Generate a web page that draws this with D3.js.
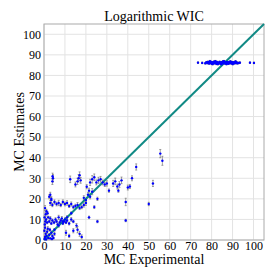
<!DOCTYPE html>
<html><head><meta charset="utf-8">
<script src="https://cdn.jsdelivr.net/npm/d3@7"></script>
<style>body{margin:0;background:#fff}svg{display:block}</style>
</head><body>
<svg id="c" width="277" height="277"></svg>
<script>
const title = "Logarithmic WIC";
const xLabel = "MC Experimental";
const yLabel = "MC Estimates";
const tickValues = [0,10,20,30,40,50,60,70,80,90,100];

// scattered low-range points: experimental, estimate, error
const lowX = [0.3,0.5,0.8,1,1.2,1.5,2,2.5,3,3.5,4,4.5,5,1.8,0.5,2.8,3.8,0.2,
  0.4,0.6,1,0.3,0.8,1.5,1.2,0.5,2,1.7,
  2.5,3,3.5,4,4.8,5.5,6,6.5,7,7.5,8,8.5,9,9.5,10,10.5,11,12,13,14,
  3,3.5,4,5,6,7,8,9,10,11,12,13,14,15,16,17,18,19,20,
  2.5,3,3.5,4,4.3,4.1,12.5,15,16,16.5,17,17.5,
  19,20,21,22,23,21.5,25.5,20.4,24,
  22,23,24,25,26,27,28,29,30,
  31,33,34,35,35.5,36,37,40,41,
  39,39,44,42,21.5,25.5,15.5,16,17,18,10.5,12,14,
  5,7,9,11,13,50,52,55.5,56.5];
const lowY = [0.5,1.5,3,0.3,2,4,1,2.5,0.8,3.5,2,1,3,5.5,6,5,0.5,4.5,
  7.5,9,10,11,12.5,8.5,14,15.5,11,13,
  9,10.5,8,9.5,8.5,10,9,7.5,11,8.5,9.5,10.5,8,9,10,8.5,9.5,8,10,9,
  18,19.5,17,18.5,17.5,18,17,18.5,17.5,18,16.5,17.5,16,16.5,17,15.5,16,17,18,
  21,22,20,28.5,30,31,29.5,27,28.5,30,31.5,29,
  20.5,19.5,22,21,23.5,24,20,25.9,16,
  28,29.5,30.5,28,29,29.5,28,27,27.5,
  24,27.5,28.5,26,24,27,29,25.5,26,
  18.5,9.5,35.5,30,11,9,7,5,3,1.5,3.5,2,4.5,
  5,7,9,11,13,17.5,27.5,42,38.5];
const lowErr = [0.4,0.6,0.8,0.3,0.5,1,0.4,0.7,0.3,0.9,0.5,0.4,0.8,1,0.6,0.7,0.3,0.5,
  0.6,0.8,0.5,0.7,1,0.6,0.9,1.2,0.5,0.8,
  0.6,0.9,0.5,0.7,0.6,0.8,0.5,0.6,1,0.5,0.7,0.9,0.5,0.6,0.8,0.5,0.6,0.7,0.9,0.6,
  1.2,1.5,0.8,1,0.9,1.3,0.8,1,0.9,1.1,0.7,1,0.8,0.9,1.2,0.7,0.8,1,1.2,
  1,1.2,0.8,1.5,1.8,1.5,1.6,1.2,1.5,1.8,1.6,1.4,
  1,0.8,1.2,1,1.5,1.2,0.8,1,0.7,
  1.5,1.8,1.6,1.2,1.5,1.4,1.2,1,1.3,
  0.8,1.5,1.6,1.2,0.8,1.4,1.6,1.2,1,
  1.8,0.6,1.5,1.2,0.6,0.6,1,1.5,1.2,1,1.2,0.8,1,
  0.6,0.8,0.6,0.8,0.7,0.8,1.5,2,2.2];

// cluster of high-range points
const clusterX = [73.5,75.5,77,77.5,78,78.3,78.8,79,79.4,79.8,80,80.3,80.7,81,81.2,81.6,82,82.3,82.5,82.9,
  83.1,83.4,83.8,84,84.2,84.5,84.9,85.1,85.4,85.7,86,86.2,86.5,86.8,87,87.3,87.6,87.9,88.1,88.4,
  88.7,89,89.2,89.5,89.8,90,90.3,90.6,90.9,91.2,91.5,91.8,92,92.4,93,93.5,98.3,100.2,
  79.2,80.5,81.8,83,84.7,85.9,87.1,88.9,90.1,91.4];
const clusterY = [86.2,86.1,85.9,86.4,86.0,86.6,85.8,86.3,86.1,86.5,85.7,86.2,86.4,85.9,86.7,86.0,86.3,85.6,86.5,86.1,
  86.2,85.8,86.6,86.0,86.3,85.7,86.4,86.1,86.8,85.9,86.2,86.5,85.8,86.3,86.0,86.6,86.1,85.7,86.4,86.2,
  85.9,86.3,86.6,86.0,85.8,86.4,86.1,86.3,85.9,86.2,86.5,86.0,86.3,85.9,86.1,86.2,86.2,86.1,
  86.9,85.5,86.9,85.5,85.4,86.9,85.5,86.8,85.5,86.8];

const W = 277, H = 277;
const m = {left:44, right:13, top:24, bottom:37};
const svg = d3.select("#c");
const x = d3.scaleLinear().domain([0,105]).range([m.left, W-m.right]);
const y = d3.scaleLinear().domain([0,105]).range([H-m.bottom, m.top]);
const font = "'Liberation Serif','Times New Roman',serif";

// grid
const g = svg.append("g");
g.selectAll("line.vx").data(tickValues).join("line")
  .attr("x1",d=>x(d)).attr("x2",d=>x(d)).attr("y1",y(0)).attr("y2",y(105))
  .attr("stroke","#e3e3e3").attr("stroke-width",1);
g.selectAll("line.hy").data(tickValues).join("line")
  .attr("y1",d=>y(d)).attr("y2",d=>y(d)).attr("x1",x(0)).attr("x2",x(105))
  .attr("stroke","#e3e3e3").attr("stroke-width",1);

// frame
svg.append("rect").attr("x",x(0)).attr("y",y(105)).attr("width",x(105)-x(0)).attr("height",y(0)-y(105))
  .attr("fill","none").attr("stroke","#aaaaaa").attr("stroke-width",1);

// axes (labels only)
const xa = svg.append("g").attr("transform",`translate(0,${y(0)})`)
  .call(d3.axisBottom(x).tickValues(tickValues).tickSize(0).tickPadding(1));
const ya = svg.append("g").attr("transform",`translate(${x(0)},0)`)
  .call(d3.axisLeft(y).tickValues(tickValues).tickSize(0).tickPadding(3));
[xa,ya].forEach(a=>{
  a.select(".domain").remove();
  a.attr("font-family",null).attr("font-size",null);
  a.selectAll("text").style("font-family",font).style("font-size","12px").style("fill","#000");
});

// error bars
const low = lowX.map((v,i)=>({x:v,y:lowY[i],e:lowErr[i]}));
const hi = clusterX.map((v,i)=>({x:v,y:clusterY[i],e:0.4}));
const all = low.concat(hi);
const eb = svg.append("g").attr("stroke","#7a7a7a").attr("stroke-width",0.7);
all.forEach(d=>{
  eb.append("line").attr("x1",x(d.x)).attr("x2",x(d.x)).attr("y1",y(d.y-d.e)).attr("y2",y(d.y+d.e));
  eb.append("line").attr("x1",x(d.x)-1).attr("x2",x(d.x)+1).attr("y1",y(d.y-d.e)).attr("y2",y(d.y-d.e));
  eb.append("line").attr("x1",x(d.x)-1).attr("x2",x(d.x)+1).attr("y1",y(d.y+d.e)).attr("y2",y(d.y+d.e));
});

// diagonal
svg.append("line").attr("x1",x(0)).attr("y1",y(0)).attr("x2",x(105)).attr("y2",y(105))
  .attr("stroke","#118a85").attr("stroke-width",2);

svg.append("g").selectAll("circle").data(all).join("circle")
  .attr("cx",d=>x(d.x)).attr("cy",d=>y(d.y)).attr("r",1.2).attr("fill","#0000ff");

// titles
svg.append("text").attr("x",(x(0)+x(105))/2).attr("y",21).attr("text-anchor","middle")
  .style("font-family",font).style("font-size","14px").text(title);
svg.append("text").attr("x",(x(0)+x(105))/2).attr("y",264).attr("text-anchor","middle")
  .style("font-family",font).style("font-size","14px").text(xLabel);
svg.append("text").attr("transform",`translate(23.5,${(y(0)+y(105))/2}) rotate(-90)`).attr("text-anchor","middle")
  .style("font-family",font).style("font-size","14px").text(yLabel);
</script>
</body></html>
